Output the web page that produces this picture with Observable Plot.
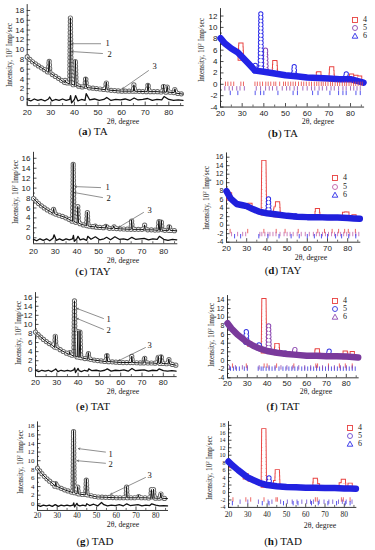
<!DOCTYPE html>
<html><head><meta charset="utf-8">
<script src="https://cdn.jsdelivr.net/npm/d3@7"></script>
<script src="https://cdn.jsdelivr.net/npm/@observablehq/plot@0.6"></script>
<style>
html,body{margin:0;padding:0;background:#fff;}
#fig{position:relative;width:375px;height:550px;overflow:hidden;background:#fff;}
.abs{position:absolute;white-space:nowrap;font-family:"Liberation Serif","Times New Roman",serif;color:#222;line-height:1;}
.xt{font-size:7.8px;transform:translate(-50%,-50%);}
.yt{font-size:7.4px;transform:translate(-50%,-50%) rotate(-90deg);}
.yt sup{font-size:5px;}
.cap{font-size:11px;transform:translate(-50%,-50%);color:#111;}
.lgt{font-size:8px;transform:translate(0,-50%);}
svg{overflow:visible;}
</style></head><body><div id="fig"></div>
<script>
// ---------- data ----------
const xMajor = [20, 30, 40, 50, 60, 70, 80];
const xMinor = [25, 35, 45, 55, 65, 75, 85];

// left panels: background of the observed pattern
const bgX = [20,22,24,26,28,30,32,34,36,38,40,42,44,46,48,50,55,60,65,70,75,80,83,86];
const bgA = [8.5,7.6,6.9,6.3,5.7,5.1,4.5,3.9,3.3,3.0,2.7,2.5,2.3,2.2,2.1,2.0,1.7,1.5,1.5,1.4,1.4,1.3,1.1,0.9];
const bgC = [7.9,7.0,6.3,5.7,5.2,4.8,4.5,4.2,3.8,3.3,3.0,2.7,2.5,2.3,2.2,2.1,1.9,1.8,1.7,1.7,1.6,1.5,1.5,1.4];
const bgE = [8.3,7.4,6.6,5.9,5.4,4.9,4.3,3.8,3.4,3.0,2.8,2.6,2.4,2.3,2.1,2.0,1.8,1.6,1.6,1.5,1.5,1.4,1.3,1.0];
const bgG = [8.3,7.1,6.1,5.3,4.6,4.0,3.6,3.2,2.9,2.6,2.3,2.2,2.1,2.0,1.8,1.6,1.5,1.4,1.4,1.4,1.4,1.3,1.3,1.2];

// left panels: peaks
const peakPosA = [29.3, 36.0, 38.3, 40.4, 44.8, 53.5, 65.2, 71.2, 77.8, 79.3, 82.6];
const peakTopA = [7.8, 3.8, 16.5, 7.8, 4.3, 3.4, 2.8, 3.0, 2.8, 2.5, 2.0];
const peakBaseA = [5.3, 3.3, 3.0, 2.7, 2.3, 1.8, 1.5, 1.4, 1.3, 1.3, 1.2];
const peakPosC = [29.3, 38.3, 40.4, 44.8, 48.6, 53.5, 57.0, 65.2, 71.2, 77.8, 78.9, 82.6];
const peakTopC = [5.9, 15.0, 6.3, 5.2, 2.6, 2.6, 2.4, 3.6, 2.6, 3.5, 3.5, 2.5];
const peakBaseC = [4.9, 3.3, 3.0, 2.4, 2.1, 2.0, 1.9, 1.7, 1.6, 1.5, 1.5, 1.5];
const peakPosE = [29.3, 36.0, 38.3, 39.9, 40.9, 44.8, 53.5, 65.2, 71.2, 77.6, 79.0, 82.6];
const peakTopE = [7.6, 4.0, 15.2, 8.6, 8.6, 3.8, 3.5, 3.0, 2.8, 3.0, 3.2, 2.4];
const peakBaseE = [4.9, 3.4, 3.0, 2.8, 2.7, 2.3, 1.8, 1.6, 1.5, 1.4, 1.4, 1.3];
const peakPosG = [29.3, 38.3, 40.4, 44.8, 65.2, 71.2, 77.8, 78.9, 82.6];
const peakTopG = [5.0, 17.0, 4.0, 5.8, 4.0, 2.0, 3.3, 3.4, 2.5];
const peakBaseG = [4.0, 2.6, 2.3, 2.1, 1.4, 1.4, 1.3, 1.3, 1.3];

// left panels: difference curve (3)
const diffX = [20,21.5,23,24.5,26,27.5,29,29.5,30.5,32,33.5,35,36.5,38,38.4,38.8,40,40.5,41.5,43,44.5,45,46.5,48.5,50.5,52.5,53.7,55.5,57.5,59.5,61.5,63.5,65.3,67,69,71,73,75,77,78,80,82,84,86];
const diffA = [-0.2,-0.5,-0.1,-0.4,-0.2,-0.5,-0.1,0.3,-0.5,-0.2,-0.4,-0.1,-0.4,-0.2,0.6,-0.9,-0.2,0.6,-0.5,-0.2,-0.4,1.0,-0.3,-0.1,-0.4,-0.2,0.2,-0.4,-0.2,-0.3,-0.1,-0.4,0.1,-0.3,-0.2,0.0,-0.4,-0.2,-0.3,0.4,-0.2,-0.4,-0.3,-0.4];
const diffC = [-0.3,-0.6,-0.2,-0.5,-0.2,-0.6,-0.1,0.6,-0.5,-0.2,-0.5,-0.2,-0.4,-0.2,0.5,-0.7,-0.2,0.3,-0.4,-0.2,-0.5,0.3,-0.3,0.2,-0.4,-0.2,0.1,-0.4,0.2,-0.3,-0.2,-0.4,0.1,-0.3,-0.2,-0.1,-0.4,-0.2,-0.3,0.3,-0.3,-0.5,-0.3,-0.4];
const diffE = [-0.1,-0.4,-0.1,-0.3,-0.1,-0.4,0.0,0.2,-0.4,-0.1,-0.3,-0.1,-0.3,0.0,0.4,-0.6,0.3,-0.2,-0.4,-0.1,-0.3,0.2,-0.2,-0.1,-0.3,-0.1,0.2,-0.3,-0.1,-0.2,0.0,-0.3,0.3,-0.2,-0.1,0.0,-0.3,-0.1,-0.2,0.2,-0.2,-0.3,-0.2,-0.3];
const diffG = [-0.3,-0.6,-0.3,-0.5,-0.3,-0.6,-0.2,-0.3,-0.6,-0.3,-0.5,-0.3,-0.5,-0.3,0.2,-0.7,0.1,-0.3,-0.5,-0.3,-0.5,0.0,-0.4,-0.1,-0.5,0.3,-0.2,-0.5,-0.3,-0.4,-0.2,-0.5,0.0,-0.4,-0.3,-0.2,-0.5,-0.3,-0.4,0.0,-0.3,-0.5,-0.4,-0.5];

// left panels: callouts [x1, y1, x2, y2] and labels [x, y, text]
const arrowsA = [[51.1,11.2,38.9,11.2],[51.9,9.2,38.9,9.6],[71.4,5.7,60.4,2.0]];
const labelsA = [[53.2,11.2,"1"],[54.0,9.0,"2"],[73.1,6.5,"3"]];
const arrowsC = [[50.9,10.1,39.2,10.3],[51.8,8.1,38.9,9.1],[70.7,5.1,59.2,2.1]];
const labelsC = [[53.2,10.1,"1"],[53.6,7.9,"2"],[72.5,5.6,"3"]];
const arrowsE = [[51.9,11.3,39.5,13.5],[51.9,8.9,39.5,11.3],[71.6,4.9,59.0,2.0]];
const labelsE = [[53.3,11.1,"1"],[53.3,8.7,"2"],[72.6,5.5,"3"]];
const arrowsG = [[54.5,12.0,40.8,12.8],[54.5,9.4,40.2,10.0],[74.8,6.1,57.1,2.2]];
const labelsG = [[56.0,11.6,"1"],[56.0,9.1,"2"],[75.8,6.7,"3"]];

// right panels: background band
const bandX = [20,22,25,28,30,33,36,40,45,50,55,60,65,70,75,80,83,86];
const bandB = [8.1,7.2,6.3,5.6,4.8,3.6,2.4,2.2,1.9,1.6,1.4,1.2,1.1,1.0,0.9,0.9,0.6,0.3];
const bandD = [8.0,6.3,5.0,4.7,4.5,3.8,3.2,2.8,2.5,2.2,2.0,1.9,1.9,1.8,1.8,1.7,1.6,1.5];
const bandF = [8.6,7.4,6.0,4.9,4.2,3.4,2.8,2.2,1.8,1.5,1.3,1.1,1.1,1.0,1.0,0.9,0.8,0.7];
const bandH = [8.3,7.3,6.0,4.8,4.0,3.3,2.6,2.0,1.7,1.5,1.4,1.3,1.3,1.2,1.2,1.1,1.1,1.0];

// right panels: peaks with phase (4, 5, 6)
const rPosB = [29.4, 36.0, 38.6, 40.8, 45.1, 54.0, 65.3, 71.3, 78.0, 80.5, 82.5, 84.2];
const rTopB = [7.0, 3.5, 12.4, 6.2, 4.0, 3.2, 2.1, 2.8, 2.0, 1.5, 1.3, 1.1];
const rBaseB = [4.6, 2.4, 2.3, 2.2, 1.9, 1.4, 1.1, 1.0, 0.9, 0.8, 0.6, 0.5];
const rPhB = [4, 6, 6, 5, 4, 6, 4, 4, 6, 4, 4, 4];
const rPosD = [21.5, 31.5, 38.5, 40.8, 44.5, 45.3, 54.0, 65.0, 72.0, 78.5, 79.5, 83.0];
const rTopD = [7.2, 4.9, 15.0, 6.2, 4.0, 5.2, 2.5, 3.5, 2.0, 2.7, 3.0, 2.2];
const rBaseD = [6.4, 4.3, 2.9, 2.8, 2.5, 2.5, 2.0, 1.9, 1.8, 1.7, 1.7, 1.6];
const rPhD = [4, 4, 4, 6, 4, 4, 6, 4, 4, 4, 4, 4];
const rPosF = [29.5, 31.5, 36.0, 38.4, 40.8, 45.0, 49.0, 54.0, 65.3, 71.3, 79.5, 83.0];
const rTopF = [7.0, 4.0, 4.0, 14.0, 8.0, 3.8, 2.0, 2.8, 2.5, 2.4, 2.0, 1.6];
const rBaseF = [4.2, 3.8, 2.8, 2.2, 2.2, 1.8, 1.5, 1.4, 1.1, 1.0, 0.9, 0.8];
const rPhF = [5, 4, 5, 4, 6, 4, 5, 6, 4, 5, 4, 4];
const rPosH = [22.0, 29.0, 31.5, 38.3, 41.0, 44.5, 45.3, 48.5, 65.0, 66.0, 78.5, 79.5, 83.0];
const rTopH = [7.6, 4.8, 4.0, 17.0, 4.0, 3.0, 5.7, 2.0, 3.5, 2.0, 2.4, 3.0, 2.0];
const rBaseH = [7.2, 4.2, 3.6, 2.0, 2.0, 1.7, 1.7, 1.5, 1.3, 1.3, 1.1, 1.1, 1.1];
const rPhH = [4, 4, 4, 4, 6, 4, 4, 6, 4, 4, 4, 4, 4];

// right panels: Bragg reflection positions per phase, and the level of each row
const braggB4 = [22.3,23.4,24.8,26.1,29.4,30.6,35.9,37.0,38.2,39.4,40.9,42.0,43.2,44.6,45.5,47.3,49.1,50.0,51.2,52.4,53.5,54.6,56.0,57.3,58.4,59.6,60.9,62.0,63.3,64.4,65.4,66.5,67.4,68.5,69.6,70.8,71.7,72.9,74.0,75.0,76.2,77.3,78.2,79.3,80.3,81.4,82.4,83.5,84.5,85.4];
const braggB5 = [22.0,24.0,25.5,27.5,29.0,31.0,36.5,38.5,40.8,42.5,44.0,46.0,48.5,50.5,52.0,54.0,55.5,58.0,60.0,62.0,63.5,65.5,67.0,69.0,71.0,72.5,74.5,76.5,78.0,80.0,81.5,83.0,84.5];
const braggB6 = [24.5,28.0,36.0,38.5,40.0,46.5,53.5,55.5,62.5,65.0,70.5,74.5,76.5,78.0,82.5,84.5];
const braggD4 = [21.8,30.5,38.5,44.6,49.0,55.5,65.2,68.5,72.3,75.5,78.5,80.3,83.8];
const braggD5 = [22.5,25.5,28,29.5,36.5,37.5,39,40.5,41.5,43,44.5,46.5,48.5,50,51.5,53,55,57,59,61,63,64.5,66,67.5,69,70.5,72,73.5,75,76.5,78,79.5,81,82.5,84,85.5];
const braggD6 = [24,27,36,40.5,46,52,56,60,63.5,67,70,74,77,80.5,84];
const braggF4 = [22.5,29.5,38.5,40,44.8,53.5,64.6,65.5,71,76.5,79.5,83];
const braggF5 = [21.5,23,24.5,26,28.5,30,35.5,37,38,39.5,41,42.5,44,46,48,49.5,51,52.5,54,55.5,57.5,59,60.5,62,63.5,65,66.5,68,69.5,71,72.5,74,75.5,77,78.5,80,81.5,83,84.5];
const braggF6 = [21,24,27.5,30,36,41,44,47,50,53,56,59,62,65,68,71,74,77,80,83];
const braggH4 = [22.3,29,31.5,38.4,44.6,45.3,65,66,78.5,79.5,83];
const braggH5 = [26,30,35.5,40.5,42.5,47,50.5,53,55.5,58,60.5,62.5,64,67,69.5,72,74,77,79,81,84];
const braggH6 = [22,37.5,41,48.5,53.5,56,63,66.5,71.5,76,80.5,83];
const rowsB = [0, -0.8, -1.6];
const rowsD = [-1.5, -2.2, -2.7];
const rowsF = [-1.3, -2.0, -1.7];
const rowsH = [-2.0, -2.6, -3.0];

const phaseNames = ["4", "5", "6"];
const yLabel = 'Intensity, 10<sup>2</sup> Imp/sec';
const xLabel = '2θ, degree';

// ---------- drawing ----------
const fig = document.getElementById("fig");
const fmt = d => d < 0 ? "-" + (-d) : String(d);

function addDiv(cls, html, x, y) {
  const d = document.createElement("div");
  d.className = "abs " + cls;
  d.style.left = x + "px"; d.style.top = y + "px";
  d.innerHTML = html;
  fig.appendChild(d);
  return d;
}

function frameMarks(c, plotW, plotH) {
  const yMinor = c.yTicks.slice(0, -1).map(d => d + 1);
  return [
    Plot.ruleX([20], {stroke: "#222", strokeWidth: 0.9}),
    Plot.ruleY([c.ymin], {stroke: "#222", strokeWidth: 0.9}),
    Plot.tickX(xMajor, {x: d => d, insetTop: plotH - 3.5, stroke: "#222", strokeWidth: 0.8}),
    Plot.tickX(xMinor, {x: d => d, insetTop: plotH - 2, stroke: "#222", strokeWidth: 0.7}),
    Plot.tickY(c.yTicks, {y: d => d, insetRight: plotW - 3.5, stroke: "#222", strokeWidth: 0.8}),
    Plot.tickY(yMinor, {y: d => d, insetRight: plotW - 2, stroke: "#222", strokeWidth: 0.7}),
    Plot.axisX({ticks: xMajor, tickSize: 0, tickPadding: c.xpad, label: null, tickFormat: d => d}),
    Plot.axisY({ticks: c.yTicks, tickSize: 0, tickPadding: 3, label: null, tickFormat: fmt, fontSize: c.yfs})
  ];
}

function makePlot(c, marks) {
  const xmax = 86.5;
  const plotW = (xmax - 20) * c.kx;
  const plotH = (c.ymax - c.ymin) * c.ky;
  const mL = c.x20 - c.left;
  const mT = (c.y0 - c.ymax * c.ky) - c.top;
  const svg = Plot.plot({
    width: c.w, height: c.h,
    marginLeft: mL, marginRight: c.w - mL - plotW,
    marginTop: mT, marginBottom: c.h - mT - plotH,
    x: {domain: [20, xmax]},
    y: {domain: [c.ymin, c.ymax]},
    style: {fontFamily: c.font, fontSize: c.fs || "8px", color: "#222", background: "transparent", overflow: "visible"},
    marks: [...frameMarks(c, plotW, plotH), ...marks]
  });
  svg.style.position = "absolute";
  svg.style.left = c.left + "px";
  svg.style.top = c.top + "px";
  fig.appendChild(svg);
}

function ringLine(data, color, cap, opts = {}) {
  const base = {x: "x", y: "y", strokeDasharray: "0 3.6", strokeLinecap: cap, ...opts};
  return [
    Plot.line(data, {...base, stroke: color, strokeWidth: 5.2}),
    Plot.line(data, {...base, stroke: "#fff", strokeWidth: 3.3})
  ];
}

function leftPanel(c) {
  const obs = bgX.map((x, i) => ({x, y: c.bg[i]}));
  c.pos.forEach((p, i) => {
    obs.push({x: p - 0.35, y: c.base[i]}, {x: p, y: c.top_[i]}, {x: p + 0.35, y: c.base[i]});
  });
  obs.sort((a, b) => a.x - b.x);
  const diff = diffX.map((x, i) => ({x, y: c.diff[i]}));
  makePlot(c, [
    ...ringLine(obs, "#6a6a6a", "round"),
    Plot.line(obs, {x: "x", y: "y", stroke: "#111", strokeWidth: 1.0}),
    Plot.line(diff, {x: "x", y: "y", stroke: "#111", strokeWidth: 1.3}),
    Plot.arrow(c.arrows, {x1: d => d[0], y1: d => d[1], x2: d => d[2], y2: d => d[3], stroke: "#444", strokeWidth: 0.6, headLength: 4, bend: 0}),
    Plot.text(c.labels, {x: d => d[0], y: d => d[1], text: d => d[2], textAnchor: "start", fontFamily: "Liberation Serif, serif", fontSize: 8.5, fill: "#111"})
  ]);
}

function rightPanel(c) {
  const peaks = [];
  c.pos.forEach((p, i) => {
    const ph = c.ph[i];
    peaks.push({x: p - 0.3, y: c.base[i], k: i, ph}, {x: p, y: c.top_[i], k: i, ph}, {x: p + 0.3, y: c.base[i], k: i, ph});
  });
  const band = bandX.map((x, i) => ({x, y: c.band[i]}));
  const marks = [];
  [4, 5, 6].forEach((ph, j) => {
    const d = peaks.filter(p => p.ph === ph);
    marks.push(...ringLine(d, c.colors[j], ph === 4 ? "square" : "round", {z: "k"}));
  });
  marks.push(Plot.line(band, {x: "x", y: "y", stroke: c.bandColor, strokeWidth: 6.5, strokeLinejoin: "round", strokeLinecap: "round"}));
  c.bragg.forEach((list, j) => {
    const r = c.rows[j];
    const hh = 2.2 / c.ky;
    marks.push(Plot.ruleX(list, {x: d => d, y1: r - hh, y2: r + hh, stroke: c.colors[j], strokeWidth: 0.8}));
  });
  makePlot(c, marks);
  // legend
  const lg = document.createElementNS("http://www.w3.org/2000/svg", "svg");
  lg.setAttribute("width", 12); lg.setAttribute("height", 30);
  lg.style.position = "absolute";
  lg.style.left = (c.legX - 6) + "px"; lg.style.top = (c.legY[0] - 4) + "px";
  const sy = c.legY.map(y => y - c.legY[0] + 4);
  lg.innerHTML =
    `<rect x="3.5" y="${sy[0]-2.5}" width="5" height="5" fill="none" stroke="${c.colors[0]}" stroke-width="0.9"/>` +
    `<circle cx="6" cy="${sy[1]}" r="2.5" fill="none" stroke="${c.colors[1]}" stroke-width="0.9"/>` +
    `<path d="M6,${sy[2]-2.8} L8.8,${sy[2]+2.2} L3.2,${sy[2]+2.2} Z" fill="none" stroke="${c.colors[2]}" stroke-width="0.9"/>`;
  fig.appendChild(lg);
  phaseNames.forEach((n, j) => addDiv("lgt", n, c.legX + 8, c.legY[j]));
}

const sans = "'Liberation Sans', Arial, sans-serif";
const serif = "'Liberation Serif', 'Times New Roman', serif";
const t18 = [0,2,4,6,8,10,12,14,16,18];
const t16 = [0,2,4,6,8,10,12,14,16];

leftPanel({left: 0, top: 0, w: 188, h: 122, x20: 26.7, kx: 2.36, y0: 98, ky: 4.89, ymin: -1.45, ymax: 19.2,
  yTicks: t18, xpad: 3.5, font: sans, bg: bgA, pos: peakPosA, top_: peakTopA, base: peakBaseA, diff: diffA, arrows: arrowsA, labels: labelsA});
leftPanel({left: 0, top: 135, w: 188, h: 122, x20: 33, kx: 2.17, y0: 237.3, ky: 4.97, ymin: -1.2, ymax: 17.2,
  yTicks: t16, xpad: 4.5, font: sans, bg: bgC, pos: peakPosC, top_: peakTopC, base: peakBaseC, diff: diffC, arrows: arrowsC, labels: labelsC});
leftPanel({left: 0, top: 270, w: 188, h: 122, x20: 35, kx: 2.13, y0: 369.3, ky: 4.54, ymin: -1.5, ymax: 17,
  yTicks: t16, xpad: 3, font: sans, bg: bgE, pos: peakPosE, top_: peakTopE, base: peakBaseE, diff: diffE, arrows: arrowsE, labels: labelsE});
leftPanel({left: 0, top: 405, w: 188, h: 122, x20: 37, kx: 1.97, y0: 503.3, ky: 4.31, ymin: -1.55, ymax: 19,
  yTicks: t18, xpad: 2, font: serif, fs: "7.5px", yfs: 7, bg: bgG, pos: peakPosG, top_: peakTopG, base: peakBaseG, diff: diffG, arrows: arrowsG, labels: labelsG});

rightPanel({left: 188, top: 0, w: 187, h: 122, x20: 220, kx: 2.167, y0: 83.8, ky: 5.69, ymin: -4, ymax: 13.3,
  yTicks: [-4,-2,0,2,4,6,8,10,12], xpad: 3, font: sans, band: bandB, bandColor: "#2323e6",
  pos: rPosB, top_: rTopB, base: rBaseB, ph: rPhB, colors: ["#e8413f", "#8b46b0", "#2a2ae8"],
  bragg: [braggB4, braggB5, braggB6], rows: rowsB, legX: 355, legY: [20, 28, 36]});
rightPanel({left: 188, top: 135, w: 187, h: 122, x20: 226, kx: 2.02, y0: 224.7, ky: 4.25, ymin: -4, ymax: 17,
  yTicks: [-4,-2,0,2,4,6,8,10,12,14,16], xpad: 3, font: sans, yfs: 7, band: bandD, bandColor: "#2020dc",
  pos: rPosD, top_: rTopD, base: rBaseD, ph: rPhD, colors: ["#e8413f", "#c060a8", "#2a2ae8"],
  bragg: [braggD4, braggD5, braggD6], rows: rowsD, legX: 335, legY: [178, 187, 195]});
rightPanel({left: 188, top: 270, w: 187, h: 122, x20: 227, kx: 1.98, y0: 360, ky: 4.33, ymin: -4, ymax: 15,
  yTicks: [-4,-2,0,2,4,6,8,10,12,14], xpad: 2.5, font: sans, yfs: 7, band: bandF, bandColor: "#7a3a9c",
  pos: rPosF, top_: rTopF, base: rBaseF, ph: rPhF, colors: ["#e8413f", "#3535e0", "#8b46b0"],
  bragg: [braggF4, braggF5, braggF6], rows: rowsF, legX: 335, legY: [301, 309, 317]});
rightPanel({left: 188, top: 405, w: 187, h: 122, x20: 228, kx: 1.93, y0: 492, ky: 3.73, ymin: -4, ymax: 19,
  yTicks: [-4,-2,0,2,4,6,8,10,12,14,16,18], xpad: 4, font: serif, fs: "7.5px", yfs: 6, band: bandH, bandColor: "#2222e0",
  pos: rPosH, top_: rTopH, base: rBaseH, ph: rPhH, colors: ["#e8413f", "#6a4ad0", "#2a2ae8"],
  bragg: [braggH4, braggH5, braggH6], rows: rowsH, legX: 350, legY: [428, 436, 444]});

// axis titles and captions
const titles = [
  [8.5, 55, 123, 122], [201, 50, 318, 122],
  [15, 192, 123, 261], [206, 198, 311, 258],
  [18, 333, 123, 392], [211, 335, 316, 392],
  [20, 462, 123, 525], [209, 468, 320, 525.5]
];
titles.forEach(t => { addDiv("yt", yLabel, t[0], t[1]); addDiv("xt", xLabel, t[2], t[3]); });
const caps = [["a","TA",93,131],["b","TA",283,133],["c","TAY",93,271],["d","TAY",283,270],["e","TAT",93,406],["f","TAT",283,406],["g","TAD",95,541],["h","TAD",283,541]];
caps.forEach(c => addDiv("cap", `(<b>${c[0]}</b>) ${c[1]}`, c[2], c[3]));
</script></body></html>
